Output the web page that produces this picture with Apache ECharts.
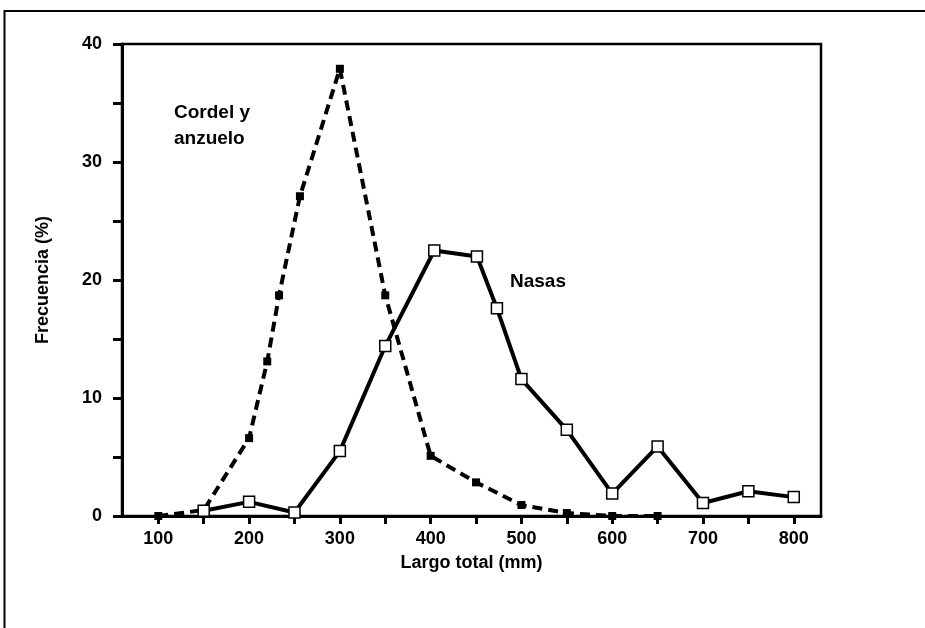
<!DOCTYPE html>
<html>
<head>
<meta charset="utf-8">
<script src="https://cdn.jsdelivr.net/npm/echarts@6/dist/echarts.min.js"></script>
<style>
  html, body { margin: 0; padding: 0; background: #fff; }
  #chart { width: 925px; height: 628px; }
</style>
</head>
<body>
<div id="chart"></div>
<script>
// x ticks every 50 mm, labels every 100 mm
const xTicks = [100, 150, 200, 250, 300, 350, 400, 450, 500, 550, 600, 650, 700, 750, 800];
const xLabels = [100, 200, 300, 400, 500, 600, 700, 800];
const yTicks = [0, 5, 10, 15, 20, 25, 30, 35, 40];

// Cordel y anzuelo (dashed, filled squares)
const cordelX = [100, 150, 200, 220, 233, 256, 300, 350, 400, 450, 500, 550, 600, 650];
const cordelY = [0, 0.5, 6.6, 13.1, 18.7, 27.1, 37.9, 18.7, 5.1, 2.85, 0.93, 0.25, 0, 0];

// Nasas (solid, open squares)
const nasasX = [150, 200, 250, 300, 350, 404, 451, 473, 500, 550, 600, 650, 700, 750, 800];
const nasasY = [0.45, 1.2, 0.3, 5.5, 14.4, 22.5, 22.0, 17.6, 11.6, 7.3, 1.9, 5.9, 1.1, 2.1, 1.6];

const FONT = '"Liberation Sans", Arial, sans-serif';

const chart = echarts.init(document.getElementById('chart'), null, { renderer: 'canvas' });

const option = {
  backgroundColor: '#fff',
  animation: false,
  grid: {
    left: 122, top: 44, right: 104, bottom: 112,
    show: true, borderColor: '#000', borderWidth: 2.5, backgroundColor: 'transparent'
  },
  xAxis: {
    type: 'value',
    min: 60, max: 830,
    name: 'Largo total (mm)',
    nameLocation: 'middle',
    nameGap: 38,
    nameTextStyle: { fontFamily: FONT, fontWeight: 'bold', fontSize: 18, color: '#000' },
    axisLine: { show: true, lineStyle: { color: '#000', width: 3 } },
    axisTick: { show: true, inside: false, length: 8, customValues: xTicks, lineStyle: { color: '#000', width: 3 } },
    axisLabel: { customValues: xLabels, margin: 14, fontFamily: FONT, fontWeight: 'bold', fontSize: 18, color: '#000' },
    splitLine: { show: false }
  },
  yAxis: {
    type: 'value',
    min: 0, max: 40, interval: 10,
    name: 'Frecuencia (%)',
    nameLocation: 'middle',
    nameGap: 70,
    nameTextStyle: { fontFamily: FONT, fontWeight: 'bold', fontSize: 18, color: '#000' },
    axisLine: { show: true, lineStyle: { color: '#000', width: 3 } },
    axisTick: { show: true, inside: false, length: 9, customValues: yTicks, lineStyle: { color: '#000', width: 3 } },
    axisLabel: { margin: 20, fontFamily: FONT, fontWeight: 'bold', fontSize: 18, color: '#000' },
    splitLine: { show: false }
  },
  series: [
    {
      name: 'Cordel y anzuelo',
      type: 'line',
      data: cordelX.map((x, i) => [x, cordelY[i]]),
      symbol: 'rect',
      symbolSize: 8,
      itemStyle: { color: '#000' },
      lineStyle: { color: '#000', width: 4, type: [10, 6] },
      z: 2
    },
    {
      name: 'Nasas',
      type: 'line',
      data: nasasX.map((x, i) => [x, nasasY[i]]),
      symbol: 'rect',
      symbolSize: 11,
      showAllSymbol: true,
      itemStyle: { color: '#fff', borderColor: '#000', borderWidth: 1.5 },
      lineStyle: { color: '#000', width: 4 },
      z: 3
    }
  ],
  graphic: [
    {
      type: 'rect',
      shape: { x: 4.5, y: 11, width: 1000, height: 1000 },
      style: { fill: 'none', stroke: '#000', lineWidth: 2 },
      silent: true
    },
    {
      type: 'text', left: 174, top: 100,
      style: { text: 'Cordel y\nanzuelo', font: 'bold 19px ' + FONT, fill: '#000', lineHeight: 26 }
    },
    {
      type: 'text', left: 510, top: 272,
      style: { text: 'Nasas', font: 'bold 19px ' + FONT, fill: '#000' }
    }
  ]
};

chart.setOption(option);
</script>
</body>
</html>
